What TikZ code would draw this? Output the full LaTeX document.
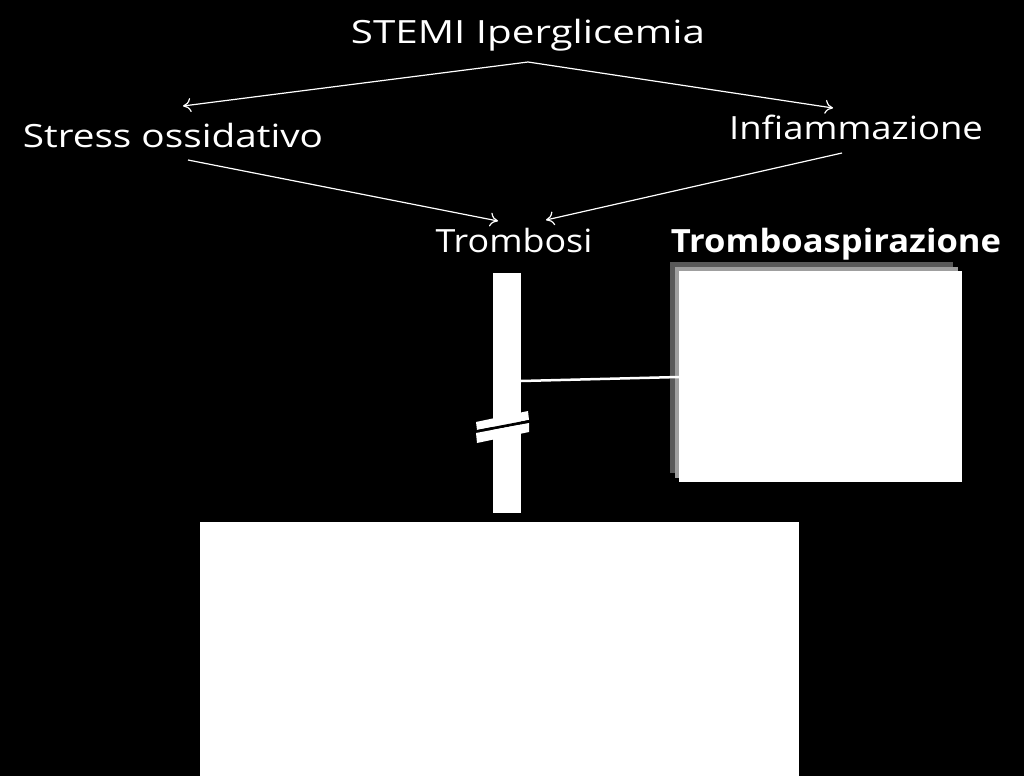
\documentclass[tikz,border=0pt]{standalone}
\usepackage{fontspec}
\setmainfont{Open Sans}
\usetikzlibrary{arrows.meta}
\begin{document}
\begin{tikzpicture}[x=1pt,y=-1pt,
  lbl/.style={text=white,inner sep=0pt,anchor=center,font=\fontsize{32}{36}\selectfont},
  conn/.style={draw=white,line width=1.2pt,-{To[length=8pt,width=14pt]}},
  whitebox/.style={fill=white,draw=none}]
\useasboundingbox (0,0) rectangle (1024,776);
\fill[black] (0,0) rectangle (1024,776);
% texts
\node[lbl] (stemi) at (528,35) {\scalebox{1.26}[1]{STEMI Iperglicemia}};
\node[lbl] (stress) at (173,135) {\scalebox{1.21}[1]{Stress ossidativo}};
\node[lbl] (infl) at (856,127) {\scalebox{1.14}[1]{Infiammazione}};
\node[lbl] (tromb) at (514,240) {\scalebox{1.12}[1]{Trombosi}};
\node[lbl,font=\bfseries\fontsize{32}{36}\selectfont] (aspir) at (836,244) {\scalebox{1.08}[1]{Tromboaspirazione}};
% arrow coordinates
\coordinate (s1) at (528,62);
\coordinate (e1) at (183,106);
\coordinate (e2) at (833,108);
\coordinate (s3) at (188,160);
\coordinate (e3) at (498,221);
\coordinate (s4) at (842,153);
\coordinate (e4) at (546,220);
\draw[conn] (s1) -- (e1);
\draw[conn] (s1) -- (e2);
\draw[conn] (s3) -- (e3);
\draw[conn] (s4) -- (e4);
% vertical bar
\fill[white] (493,273) rectangle (521,513);
% break marks
\fill[white] (476,422) -- (528,411) -- (529,420) -- (477,430) -- cycle;
\fill[black] (477,430) -- (529,420) -- (529,423) -- (476,433) -- cycle;
\fill[white] (476,433) -- (529,423) -- (529,432) -- (477,443) -- cycle;
% right box with shadow layers
\fill[gray!70!black] (670,262) rectangle (953,473);
\fill[gray!75] (675,267) rectangle (958,478);
\node[whitebox,minimum width=283pt,minimum height=211pt,anchor=north west,inner sep=0pt] (rbox) at (679,271) {};
% connector from bar to box
\coordinate (barpt) at (521,381);
\draw[white,line width=2.5pt] (barpt) -- (rbox.west |- 0,377);
% bottom big box
\node[whitebox,minimum width=599pt,minimum height=254pt,anchor=north west,inner sep=0pt] (bbox) at (200,522) {};
\end{tikzpicture}
\end{document}
